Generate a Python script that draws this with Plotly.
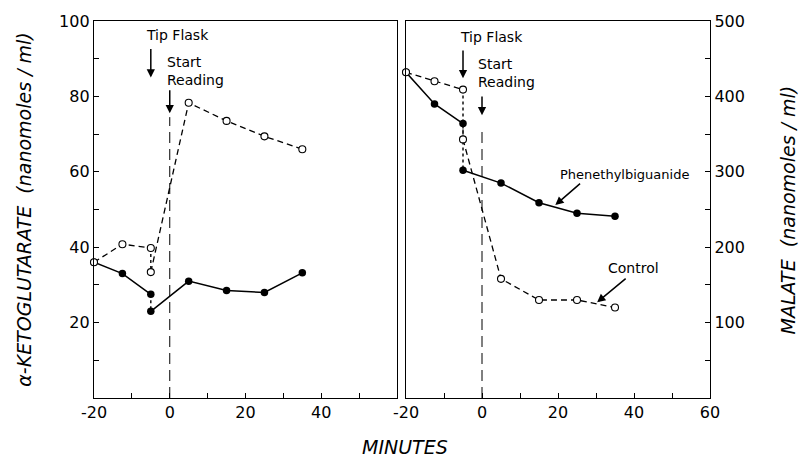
import plotly.graph_objects as go

# ---------------- data ----------------
minutes_pre = [-20, -12.5, -5]
minutes_post = [-5, 5, 15, 25, 35]
TIP_FLASK = -5
START_READING = 0

# alpha-ketoglutarate (nanomoles/ml), left panel
akg_pheng_pre = [36, 33, 27.5]
akg_pheng_post = [23, 31, 28.5, 28, 33.2]
akg_control_pre = [36, 40.8, 39.8]
akg_control_post = [33.4, 78.3, 73.5, 69.4, 66]

# malate (nanomoles/ml), right panel
mal_pheng_pre = [432, 390, 364]
mal_pheng_post = [302, 285, 259, 245, 241]
mal_control_pre = [432, 420, 409]
mal_control_post = [343, 158, 130, 130, 120]

x_tick_vals_left = [-20, 0, 20, 40]
x_tick_text_left = ["-20", "0", "20", "40"]
x_tick_vals_right = [-20, 0, 20, 40, 60]
x_tick_text_right = ["-20", "0", "20", "40", "60"]
akg_ticks = [20, 40, 60, 80, 100]
mal_ticks = [100, 200, 300, 400, 500]

FONT = "DejaVu Sans"
fig = go.Figure()


def add_series(xa, ya, pre, post, filled, dash):
    # dotted drop at tipping
    fig.add_trace(go.Scatter(
        x=[minutes_pre[-1], minutes_post[0]], y=[pre[-1], post[0]],
        mode="lines", line=dict(color="black", width=1.4, dash="dot"),
        xaxis=xa, yaxis=ya, showlegend=False, hoverinfo="skip", cliponaxis=False))
    if filled:
        marker = dict(color="black", size=7.5, line=dict(color="black", width=0))
        width = 1.5
    else:
        marker = dict(color="white", size=7, line=dict(color="black", width=1.1))
        width = 1.3
    for xs, ys in ((minutes_pre, pre), (minutes_post, post)):
        fig.add_trace(go.Scatter(
            x=xs, y=ys, mode="lines+markers",
            line=dict(color="black", width=width, dash=dash),
            marker=marker, xaxis=xa, yaxis=ya, showlegend=False,
            cliponaxis=False))


add_series("x", "y", akg_pheng_pre, akg_pheng_post, True, "solid")
add_series("x", "y", akg_control_pre, akg_control_post, False, "6px,4px")
add_series("x2", "y2", mal_pheng_pre, mal_pheng_post, True, "solid")
add_series("x2", "y2", mal_control_pre, mal_control_post, False, "6px,4px")

# vertical "start reading" lines
fig.add_shape(type="line", xref="x", yref="y", x0=START_READING, x1=START_READING,
              y0=0, y1=74.5, line=dict(color="black", width=1, dash="11px,6px"))
fig.add_shape(type="line", xref="x2", yref="y2", x0=START_READING, x1=START_READING,
              y0=0, y1=358, line=dict(color="black", width=1, dash="11px,6px"))

ann = []


def arrow(xr, yr, x, y, ax, ay):
    ann.append(dict(xref=xr, yref=yr, axref=xr, ayref=yr, x=x, y=y, ax=ax, ay=ay,
                    text="", showarrow=True, arrowhead=2, arrowsize=1.1,
                    arrowwidth=1.5, arrowcolor="black", standoff=0, startstandoff=0))


def label(xr, yr, x, y, text, size=14, xanchor="center", align="center"):
    ann.append(dict(xref=xr, yref=yr, x=x, y=y, text=text, showarrow=False,
                    xanchor=xanchor, yanchor="middle", align=align,
                    font=dict(family=FONT, size=size, color="black")))


# left panel annotations
label("x", "y", 2.1, 96.3, "Tip Flask")
arrow("x", "y", TIP_FLASK, 85, TIP_FLASK, 93)
label("x", "y", -1.3, 86.8, "Start<br>Reading", xanchor="left", align="left")
arrow("x", "y", START_READING, 75.5, START_READING, 82)

# right panel annotations
label("x2", "y2", 2.6, 479, "Tip Flask")
arrow("x2", "y2", TIP_FLASK, 424, TIP_FLASK, 463)
label("x2", "y2", -1.5, 431.5, "Start<br>Reading", xanchor="left", align="left")
arrow("x2", "y2", START_READING, 375, START_READING, 402)
label("x2", "y2", 37.4, 296.6, "Phenethylbiguanide", size=13)
arrow("x2", "y2", 19.3, 256, 26.2, 286)
label("x2", "y2", 39.8, 173, "Control", size=14)
arrow("x2", "y2", 30.3, 127, 38.2, 160)

# axis titles
tfont = dict(family=FONT, size=19, color="black", style="italic")
ann.append(dict(xref="paper", yref="paper", x=-0.115, y=0.5, textangle=-90,
                text="α-KETOGLUTARATE  (nanomoles / ml)", showarrow=False,
                xanchor="center", yanchor="middle", font=tfont))
ann.append(dict(xref="paper", yref="paper", x=1.1266, y=0.5, textangle=-90,
                text="MALATE  (nanomoles / ml)", showarrow=False,
                xanchor="center", yanchor="middle", font=tfont))
ann.append(dict(xref="paper", yref="paper", x=0.505, y=-0.131,
                text="MINUTES", showarrow=False,
                xanchor="center", yanchor="middle", font=tfont))

tickfont = dict(family=FONT, size=16, color="black")
common = dict(showline=True, linecolor="black", linewidth=1.4, mirror=True,
              ticks="inside", ticklen=5, tickwidth=1.2, tickcolor="black",
              showgrid=False, zeroline=False, tickfont=tickfont,
              tickmode="array")

fig.update_layout(
    width=799, height=457, autosize=False,
    paper_bgcolor="white", plot_bgcolor="white",
    margin=dict(l=94, r=89, t=17, b=59),
    showlegend=False,
    annotations=ann,
    xaxis=dict(domain=[0, 0.4919], range=[-20, 60], anchor="y",
               tickvals=x_tick_vals_left, ticktext=x_tick_text_left,
               minor=dict(tickmode="array", tickvals=[-10, 10, 30, 50],
                          ticks="inside", ticklen=5, tickwidth=1.2, tickcolor="black"),
               **common),
    yaxis=dict(domain=[0, 1], range=[0, 100], anchor="x",
               tickvals=akg_ticks,
               minor=dict(tickmode="array", tickvals=[10, 30, 50, 70, 90],
                          ticks="inside", ticklen=5, tickwidth=1.2, tickcolor="black"),
               **common),
    xaxis2=dict(domain=[0.5065, 1], range=[-20, 60], anchor="y2",
                tickvals=x_tick_vals_right, ticktext=x_tick_text_right,
                minor=dict(tickmode="array", tickvals=[-10, 10, 30, 50],
                           ticks="inside", ticklen=5, tickwidth=1.2, tickcolor="black"),
                **common),
    yaxis2=dict(domain=[0, 1], range=[0, 500], anchor="x2", side="right",
                tickvals=mal_ticks,
                minor=dict(tickmode="array", tickvals=[50, 150, 250, 350, 450],
                           ticks="inside", ticklen=5, tickwidth=1.2, tickcolor="black"),
                **common),
)

fig.write_html("out.html", config={"displayModeBar": False},
               post_script="document.body.style.margin='0';document.body.style.overflow='hidden';")
